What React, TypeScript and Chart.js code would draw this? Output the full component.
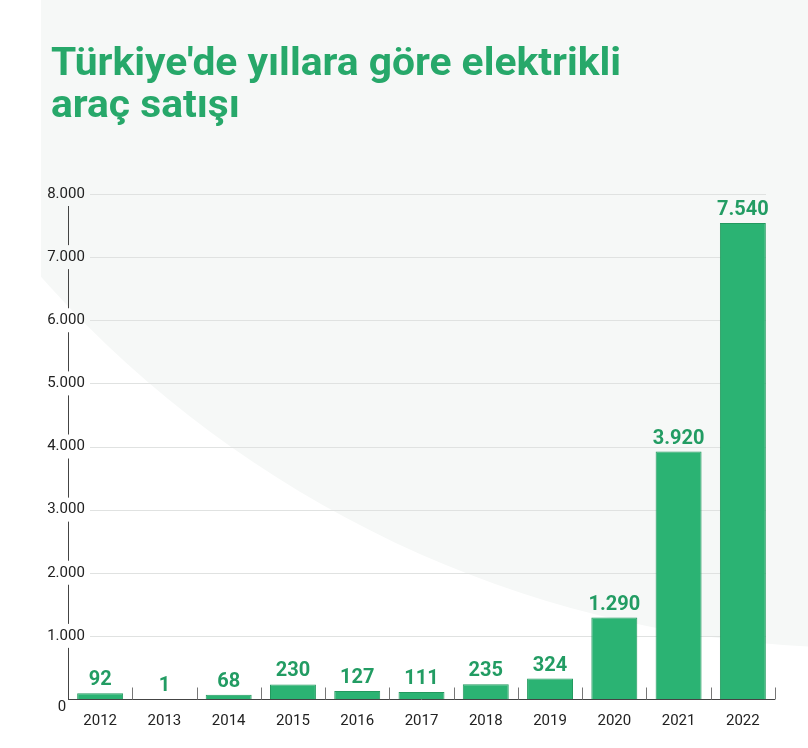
import { useEffect, useRef } from 'react'
import { Chart, registerables } from 'chart.js'

Chart.register(...registerables)

const titleLines = ["Türkiye'de yıllara göre elektrikli", 'araç satışı']
const years = ['2012', '2013', '2014', '2015', '2016', '2017', '2018', '2019', '2020', '2021', '2022']
const sales = [92, 1, 68, 230, 127, 111, 235, 324, 1290, 3920, 7540]
const yTicks = [0, 1000, 2000, 3000, 4000, 5000, 6000, 7000, 8000]

const W = 808
const H = 748
const FONT = 'Roboto, "Noto Sans", sans-serif'
const GREEN = '#2bb373'
const TITLE_GREEN = '#27a86a'
const LABEL_GREEN = '#229c63'

const fmt = (n: number) => String(n).replace(/\B(?=(\d{3})+(?!\d))/g, '.')

// background wash + title
const backdrop = {
  id: 'backdrop',
  beforeDraw(chart: any) {
    const ctx = chart.ctx
    ctx.save()
    ctx.fillStyle = '#ffffff'
    ctx.fillRect(0, 0, W, H)
    ctx.beginPath()
    ctx.rect(41, 0, W - 41, H)
    ctx.clip()
    ctx.beginPath()
    ctx.arc(865, -452, 1100, 0, Math.PI * 2)
    ctx.fillStyle = '#f6f8f7'
    ctx.fill()
    ctx.restore()

    ctx.save()
    ctx.fillStyle = TITLE_GREEN
    ctx.font = `bold 39px ${FONT}`
    ctx.textBaseline = 'alphabetic'
    ctx.textAlign = 'left'
    const sx = 570 / ctx.measureText(titleLines[0]).width
    ctx.translate(51, 0)
    ctx.scale(sx, 1)
    ctx.fillText(titleLines[0], 0, 75)
    ctx.fillText(titleLines[1], 0, 117)
    ctx.restore()
  },
}

// grid, axis line with gaps, baseline, category ticks, y labels
const axes = {
  id: 'axes',
  beforeDatasetsDraw(chart: any) {
    const ctx = chart.ctx
    const y = chart.scales.y
    const x = chart.scales.x
    const area = chart.chartArea
    const axisX = Math.round(area.left) + 0.5
    const base = Math.round(y.getPixelForValue(0)) + 0.5
    ctx.save()
    ctx.lineWidth = 1

    ctx.strokeStyle = '#e0e2e1'
    yTicks.forEach((v) => {
      if (v === 0) return
      const py = Math.round(y.getPixelForValue(v)) + 0.5
      ctx.beginPath()
      ctx.moveTo(90, py)
      ctx.lineTo(area.right - 9, py)
      ctx.stroke()
    })

    ctx.strokeStyle = '#444'
    for (let i = 0; i < yTicks.length - 1; i++) {
      const lower = y.getPixelForValue(yTicks[i])
      const upper = y.getPixelForValue(yTicks[i + 1])
      ctx.beginPath()
      ctx.moveTo(axisX, upper + 12)
      ctx.lineTo(axisX, i === 0 ? base : lower - 12)
      ctx.stroke()
    }

    ctx.beginPath()
    ctx.moveTo(axisX - 0.5, base)
    ctx.lineTo(area.right, base)
    ctx.stroke()

    ctx.strokeStyle = '#777'
    const step = x.getPixelForValue(1) - x.getPixelForValue(0)
    for (let i = 0; i < years.length; i++) {
      const px = Math.round(x.getPixelForValue(i) + step / 2) + 0.5
      ctx.beginPath()
      ctx.moveTo(px, base - 12)
      ctx.lineTo(px, base)
      ctx.stroke()
    }

    ctx.fillStyle = '#222'
    ctx.font = `15px ${FONT}`
    ctx.textAlign = 'center'
    ctx.textBaseline = 'middle'
    yTicks.forEach((v) => {
      const py = y.getPixelForValue(v)
      if (v === 0) ctx.fillText('0', 62, py + 8)
      else ctx.fillText(fmt(v), 66, py)
    })
    ctx.restore()
  },
  afterDatasetsDraw(chart: any) {
    const ctx = chart.ctx
    const meta = chart.getDatasetMeta(0)
    ctx.save()
    ctx.fillStyle = LABEL_GREEN
    ctx.font = `bold 20px ${FONT}`
    ctx.textAlign = 'center'
    ctx.textBaseline = 'alphabetic'
    meta.data.forEach((bar: any, i: number) => {
      ctx.fillText(fmt(sales[i]), bar.x, bar.y - 8)
    })
    ctx.restore()
  },
}

export default function App() {
  const ref = useRef<HTMLCanvasElement | null>(null)
  useEffect(() => {
    if (!ref.current) return
    const chart = new Chart(ref.current, {
      type: 'bar',
      data: {
        labels: years,
        datasets: [{
          data: sales,
          backgroundColor: GREEN,
          borderColor: '#23995f',
          borderWidth: 1,
          barPercentage: 0.715,
          categoryPercentage: 1,
        }],
      },
      options: {
        responsive: false,
        animation: false,
        devicePixelRatio: 1,
        layout: { padding: { left: 68, right: 33, top: 194, bottom: 5 } },
        plugins: { legend: { display: false }, tooltip: { enabled: false } },
        scales: {
          x: {
            grid: { display: false, drawTicks: false },
            border: { display: false },
            ticks: { color: '#222', font: { family: FONT, size: 15 }, padding: 13, maxRotation: 0, autoSkip: false },
          },
          y: { display: false, min: 0, max: 8000 },
        },
      },
      plugins: [backdrop, axes],
    })
    return () => chart.destroy()
  }, [])
  return (
    <div style={{ position: 'absolute', left: 0, top: 0, width: W, height: H }}>
      <canvas ref={ref} width={W} height={H} />
    </div>
  )
}
